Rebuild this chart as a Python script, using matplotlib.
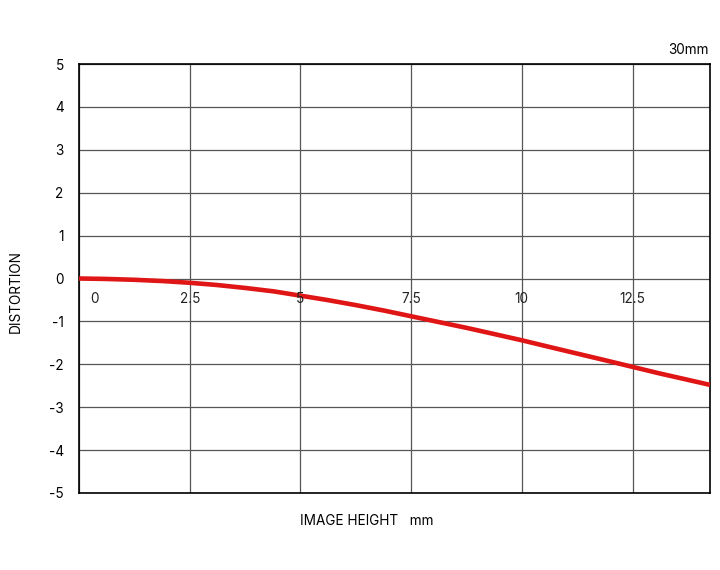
import matplotlib
matplotlib.use("Agg")
import matplotlib.pyplot as plt

plt.rcParams['font.family'] = ['Inter', 'DejaVu Sans']

image_height = [0, 0.6, 1.25, 1.9, 2.5, 3.1, 3.75, 4.4, 5, 5.6, 6.25, 6.9, 7.5, 8.1, 8.75, 9.4, 10,
                10.6, 11.25, 11.9, 12.5, 13.1, 13.7, 14.25]
distortion = [0, -0.01, -0.03, -0.06, -0.1, -0.15, -0.22, -0.3, -0.4, -0.5, -0.62, -0.75, -0.88, -1.01,
              -1.15, -1.3, -1.44, -1.59, -1.75, -1.91, -2.06, -2.21, -2.35, -2.48]
x_ticks = [0, 2.5, 5, 7.5, 10, 12.5]
x_tick_labels = ['0', '2.5', '5', '7.5', '10', '12.5']
y_ticks = [-5, -4, -3, -2, -1, 0, 1, 2, 3, 4, 5]

fs = 9.8
fig = plt.figure(figsize=(7.2, 5.7), dpi=100)
ax = fig.add_axes([79/720, 1-493/570, (710-79)/720, (493-64)/570])
ax.set_xlim(0, 14.25)
ax.set_ylim(-5, 5)
ax.set_xticks(x_ticks)
ax.set_yticks(y_ticks)
ax.set_xticklabels([])
ax.set_yticklabels([str(v) for v in y_ticks], fontsize=fs)
ax.tick_params(axis='y', length=0, pad=11)
ax.tick_params(axis='x', length=0)
ax.grid(True, color='#555555', linewidth=0.9)
for s in ax.spines.values():
    s.set_color('black')
    s.set_linewidth(1.2)

ax.plot(image_height, distortion, color='#e01515', linewidth=3.3, solid_capstyle='butt', zorder=3)

for xv, lab in zip(x_ticks, x_tick_labels):
    xp = xv + 0.35 if xv == 0 else xv
    ax.text(xp, -0.48, lab, ha='center', va='center', fontsize=fs, color='#222222')

fig.text(16/720, 1-292/570, 'DISTORTION', rotation=90, ha='center', va='center', fontsize=fs)
fig.text(367/720, 1-521/570, 'IMAGE HEIGHT   mm', ha='center', va='center', fontsize=fs)
fig.text(709/720, 1-50/570, '30mm', ha='right', va='center', fontsize=fs)

fig.savefig('out.png', dpi=100)
